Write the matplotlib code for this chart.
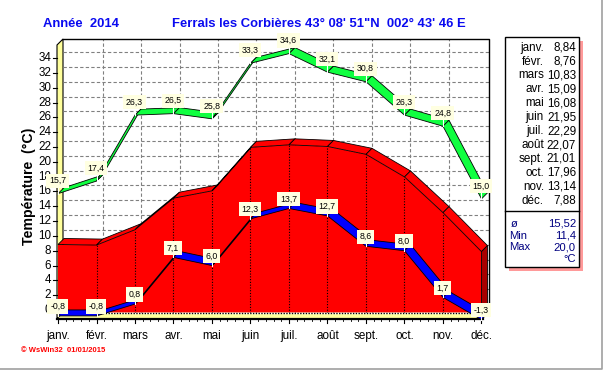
import numpy as np
import matplotlib.pyplot as plt
from matplotlib.patches import Polygon, Rectangle
from matplotlib.lines import Line2D

plt.rcParams['font.family'] = ['Liberation Sans', 'DejaVu Sans']

# -------------------- Donnees --------------------
months = ['janv.', 'févr.', 'mars', 'avr.', 'mai', 'juin', 'juil.', 'août', 'sept.', 'oct.', 'nov.', 'déc.']
t_max = [15.7, 17.4, 26.3, 26.5, 25.8, 33.3, 34.6, 32.1, 30.8, 26.3, 24.8, 15.0]
t_min = [-0.8, -0.8, 0.8, 7.1, 6.0, 12.3, 13.7, 12.7, 8.6, 8.0, 1.7, -1.3]
t_moy = [8.84, 8.76, 10.83, 15.09, 16.08, 21.95, 22.29, 22.07, 21.01, 17.96, 13.14, 7.88]
stats_labels = ['ø', 'Min', 'Max']
stats_values = ['15,52', '11,4', '20,0']
y_ticks = list(range(0, 35, 2))

# -------------------- Geometrie (pixels) --------------------
W, H = 603, 370
X0, XS = 58, 38.5     # position de janv., pixels par mois
Y0, YS = 310, 7.41    # position de 0 degre, pixels par degre
DEPTH = 6             # profondeur de l'effet 3D

fig = plt.figure(figsize=(W / 100, H / 100), dpi=100)
fig.patch.set_facecolor('white')
ax = fig.add_axes([40 / W, 1 - 330 / H, 460 / W, 300 / H])
ax.set_xlim((40 - X0) / XS, (500 - X0) / XS)
ax.set_ylim((Y0 - 330) / YS, (Y0 - 30) / YS)
ax.axis('off')

dx = DEPTH / XS
dy = DEPTH / YS
x = np.arange(len(months))

f0 = (Y0 - 318.5) / YS      # bord avant du sol
f1 = f0 + dy                # bord arriere du sol
xl = (57 - X0) / XS         # mur gauche (avant)
xr = (489 - X0) / XS        # cadre droit (arriere)
yt = (Y0 - 39) / YS         # cadre haut (arriere)

def poly(pts, **kw):
    ax.add_patch(Polygon(pts, closed=True, clip_on=False, **kw))

def line(xs, ys, **kw):
    ax.add_line(Line2D(xs, ys, clip_on=False, **kw))

# sol et mur
yellow = '#FFFF9C'
poly([(xl, f0), (xr - dx, f0), (xr, f1), (xl + dx, f1)], fc=yellow, ec='none', zorder=1)
poly([(xl, f0), (xl, yt - dy), (xl + dx, yt), (xl + dx, f1)], fc=yellow, ec='black', lw=0.8, zorder=1)
line([xl, xr - dx], [f0, f0], color='black', lw=1.6, zorder=2)

# grille
for v in y_ticks:
    line([xl + dx, xr], [v + dy, v + dy], color='#808080', lw=0.8, ls=(0, (3, 2)), zorder=1)
for i in x[1:-1]:
    line([i + dx, i + dx], [f1, yt], color='#808080', lw=0.8, ls=(0, (3, 2)), zorder=1)
line([xl + dx, xr, xr], [yt, yt, f1], color='black', lw=1.0, zorder=2)

# temperature moyenne (aire rouge)
poly([(0, f1)] + list(zip(x, t_moy)) + [(x[-1], f1)], fc='#FF0000', ec='none', zorder=3)
for i in x[:-1]:
    poly([(i, t_moy[i]), (i + 1, t_moy[i + 1]), (i + 1 + dx, t_moy[i + 1] + dy), (i + dx, t_moy[i] + dy)],
         fc='#FF0000', ec='black', lw=0.6, zorder=3)
poly([(x[-1], t_moy[-1]), (x[-1] + dx, t_moy[-1] + dy), (x[-1] + dx, f1), (x[-1], f1)],
     fc='#A80000', ec='black', lw=0.6, zorder=3)
for i in x[1:-1]:
    line([i, i], [f1, t_moy[i]], color='black', lw=0.8, ls=(0, (1, 1.5)), zorder=3)
line([0, x[-1]], [f1, f1], color='white', lw=1.0, zorder=3)
line([0, x[-1]], [f1, f1], color='black', lw=1.0, ls=(0, (1, 1)), zorder=3)

# rubans min / max
def ribbon(vals, color, off, z):
    for i in x[:-1]:
        poly([(i, vals[i]), (i + 1, vals[i + 1]), (i + 1 + dx, vals[i + 1] + dy), (i + dx, vals[i] + dy)],
             fc=color, ec='black', lw=0.6, zorder=z)
    for i, v in enumerate(vals):
        ly = v + off / YS
        line([i, i], [ly - 5 / YS, v], color='white', lw=0.8, zorder=z + 1)
        ax.text(i - 0.01, ly, f'{v:.1f}'.replace('.', ','), ha='center', va='center', fontsize=6.3,
                zorder=z + 2, bbox=dict(boxstyle='square,pad=0.3', fc='#FFFFE1', ec='none'))

ribbon(t_min, '#0000FF', 9.5, 4)
ribbon(t_max, '#10FF40', 13, 7)

# axes
for v in y_ticks:
    line([xl, xl - 4 / XS], [v, v], color='black', lw=0.8, zorder=2)
    ax.text((51 - X0) / XS, v, str(v), ha='right', va='center', fontsize=8.4)
for i in x:
    line([i, i], [f0, f0 - 4 / YS], color='black', lw=0.8)
    ax.text(i, (Y0 - 336) / YS, months[i], ha='center', va='center', fontsize=8.4)
    if i < x[-1]:
        for k in range(1, 5):
            line([i + k / 5, i + k / 5], [f0, f0 - 2.5 / YS], color='black', lw=0.6)

# textes
def fx(px):
    return px / W

def fy(py):
    return 1 - py / H

blue = '#0A0AF0'
fig.text(fx(43), fy(24), 'Année  2014', ha='left', va='center', fontsize=9.4, fontweight='bold', color=blue)
fig.text(fx(172), fy(24), 'Ferrals les Corbières 43° 08\' 51"N  002° 43\' 46 E', ha='left', va='center',
         fontsize=9.4, fontweight='bold', color=blue)
fig.text(fx(29), fy(186), 'Température  (°C)', rotation=90, ha='center', va='center', fontsize=10.2,
         fontweight='bold')
fig.text(fx(21), fy(350), '© WsWin32  01/01/2015', ha='left', va='center', fontsize=5.5,
         fontweight='bold', color='#FF0000')

# legende
fig.add_artist(Rectangle((fx(509), fy(271)), (579 - 505) / W, (267 - 37) / H,
                         transform=fig.transFigure, fc='#FF9A9A', ec='none'))
fig.add_artist(Rectangle((fx(505), fy(267)), (579 - 505) / W, (267 - 37) / H,
                         transform=fig.transFigure, fc='white', ec='black', lw=1.0))
fig.add_artist(Line2D([fx(505), fx(579)], [fy(211), fy(211)], transform=fig.transFigure, color='black', lw=1.0))
for k, (m, v) in enumerate(zip(months, t_moy)):
    py = 47.7 + k * 13.9
    fig.text(fx(544), fy(py), m, ha='right', va='center', fontsize=8.4)
    fig.text(fx(576), fy(py), f'{v:.2f}'.replace('.', ','), ha='right', va='center', fontsize=8.4)
navy = '#000080'
for k, (s, v) in enumerate(zip(stats_labels, stats_values)):
    py = 224 + k * 11.5
    fig.text(fx(509 if k else 511), fy(py), s, ha='left', va='center', fontsize=8.1, color=navy)
    fig.text(fx(576), fy(py), v, ha='right', va='center', fontsize=8.1, color=navy)
fig.text(fx(576), fy(258.5), '°C', ha='right', va='center', fontsize=8.1, color=navy)

# bordure
fig.add_artist(Line2D([fx(0), fx(601.5), fx(601.5)], [fy(368.5), fy(368.5), fy(0)],
                      transform=fig.transFigure, color='#A0A0A0', lw=1.2))

fig.savefig('out.png', dpi=100)
